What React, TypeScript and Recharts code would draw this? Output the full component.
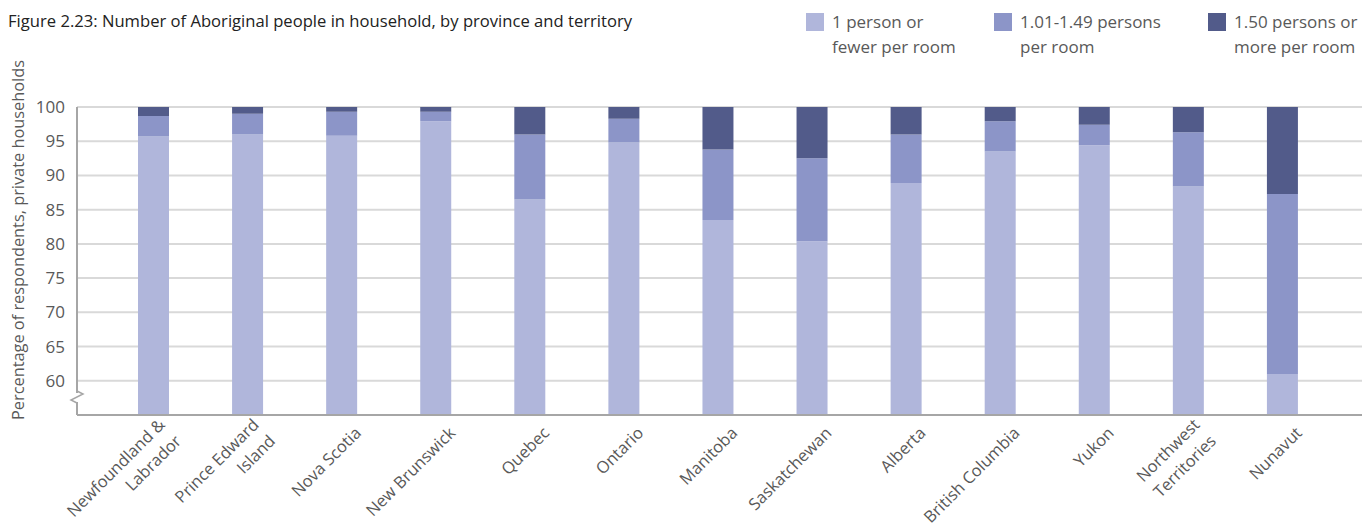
import { BarChart, Bar, XAxis, YAxis, CartesianGrid } from 'recharts';

const FONT = "'Open Sans', 'Noto Sans', sans-serif";
const TEXT = '#595959';

const regions = [
  'Newfoundland &\nLabrador',
  'Prince Edward\nIsland',
  'Nova Scotia',
  'New Brunswick',
  'Quebec',
  'Ontario',
  'Manitoba',
  'Saskatchewan',
  'Alberta',
  'British Columbia',
  'Yukon',
  'Northwest\nTerritories',
  'Nunavut',
];

// percent of respondents per crowding level
const oneOrFewer = [95.7, 96.0, 95.8, 97.9, 86.5, 94.8, 83.5, 80.4, 88.9, 93.5, 94.4, 88.4, 61.0];
const between = [3.0, 3.0, 3.5, 1.4, 9.5, 3.5, 10.3, 12.1, 7.1, 4.4, 3.0, 7.9, 26.3];
const moreThan = [1.3, 1.0, 0.7, 0.7, 4.0, 1.7, 6.2, 7.5, 4.0, 2.1, 2.6, 3.7, 12.7];

const yTicks = [60, 65, 70, 75, 80, 85, 90, 95, 100];

const seriesNames = ['1 person or\nfewer per room', '1.01-1.49 persons\nper room', '1.50 persons or\nmore per room'];
const colors = ['#b0b6db', '#8c95c8', '#525b8a'];

const data = regions.map((name, i) => ({
  name,
  low: oneOrFewer[i],
  mid: between[i],
  high: moreThan[i],
}));

const XTick = ({ x, y, payload }: any) => {
  const lines = String(payload.value).split('\n');
  const lh = 23;
  return (
    <g transform={`translate(${x + 21},${y + 11}) rotate(-45)`}>
      <text textAnchor="end" fill={TEXT} fontSize={16.5} fontFamily={FONT}>
        {lines.map((l, i) => (
          <tspan key={i} x={0} y={(i - (lines.length - 1) / 2) * lh}>
            {l}
          </tspan>
        ))}
      </text>
    </g>
  );
};

const legendX = [806, 994, 1208];

export default function App() {
  return (
    <div style={{ position: 'relative', width: 1364, height: 529, background: '#fff', fontFamily: FONT }}>
      <style>{`body{margin:0}`}</style>
      <BarChart
        width={1364}
        height={529}
        data={data}
        margin={{ top: 107, right: 2, left: 0, bottom: 0 }}
        barCategoryGap={0}
      >
        <CartesianGrid vertical={false} stroke="#d9d9d9" strokeWidth={2} />
        <XAxis
          dataKey="name"
          height={114}
          interval={0}
          tickLine={false}
          axisLine={{ stroke: '#a6a6a6', strokeWidth: 2 }}
          padding={{ left: 29, right: 33 }}
          tick={<XTick />}
        />
        <YAxis
          width={77}
          domain={[55, 100]}
          ticks={yTicks}
          allowDataOverflow
          tickLine={false}
          tickSize={10}
          tickMargin={2}
          axisLine={{ stroke: '#a6a6a6', strokeWidth: 2 }}
          tick={{ fill: TEXT, fontSize: 17, fontFamily: FONT }}
        />
        <Bar dataKey="low" stackId="a" fill={colors[0]} barSize={31} isAnimationActive={false} />
        <Bar dataKey="mid" stackId="a" fill={colors[1]} barSize={31} isAnimationActive={false} />
        <Bar dataKey="high" stackId="a" fill={colors[2]} barSize={31} isAnimationActive={false} />
      </BarChart>

      <svg width={1364} height={529} style={{ position: 'absolute', left: 0, top: 0, pointerEvents: 'none' }}>
        <text x={8} y={27} fontSize={17} fill="#222" fontFamily={FONT} textLength={624} lengthAdjust="spacingAndGlyphs">
          Figure 2.23: Number of Aboriginal people in household, by province and territory
        </text>
        <text
          transform="translate(24,240) rotate(-90)"
          textAnchor="middle"
          fontSize={17}
          fill={TEXT}
          fontFamily={FONT}
          textLength={360}
          lengthAdjust="spacingAndGlyphs"
        >
          Percentage of respondents, private households
        </text>
        {/* axis break */}
        <rect x={72} y={393} width={10} height={9} fill="#fff" />
        <polyline points="77,391 83,394 71,400 77,403" fill="none" stroke="#a6a6a6" strokeWidth={1.5} />
        {seriesNames.map((s, i) => (
          <g key={s}>
            <rect x={legendX[i]} y={13} width={18} height={18} fill={colors[i]} />
            <text x={legendX[i] + 26} fontSize={17} fill={TEXT} fontFamily={FONT}>
              {s.split('\n').map((l, j) => (
                <tspan key={j} x={legendX[i] + 26} y={28 + j * 25}>
                  {l}
                </tspan>
              ))}
            </text>
          </g>
        ))}
      </svg>
    </div>
  );
}
